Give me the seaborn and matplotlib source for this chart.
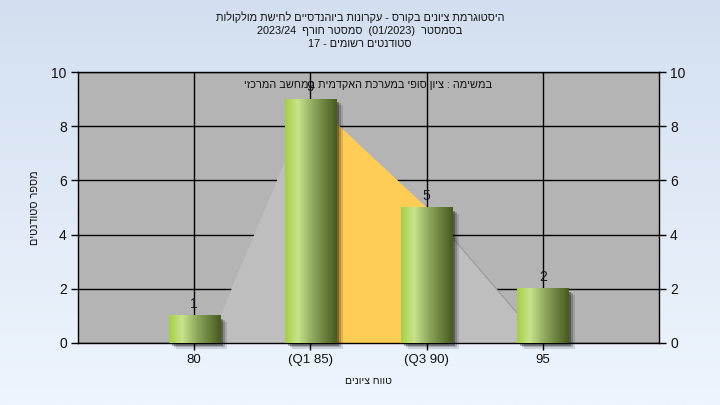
import numpy as np
import pandas as pd
import matplotlib
matplotlib.use("Agg")
import matplotlib.pyplot as plt
import matplotlib.transforms as mtransforms
from matplotlib.patches import Rectangle
from matplotlib.colors import LinearSegmentedColormap
import seaborn as sns

# ---------------- data ----------------
categories = ["80", "(Q1 85)", "(Q3 90)", "95"]
counts = [1, 9, 5, 2]
# background distribution area (x in category index units, y = students)
curve_x = [0.12, 1, 2, 3]
curve_y = [0, 9, 5, 0]
# interquartile (yellow) part of the area
iqr_x = [1, 2]
iqr_y = [9, 5]
y_ticks = [0, 2, 4, 6, 8, 10]

title_l1 = "היסטוגרמת ציונים בקורס - עקרונות ביוהנדסיים לחישת מולקולות"
title_l2_parts = ["בסמסטר", "(01/2023)", "סמסטר חורף", "2023/24"]
title_l3_parts = ["סטודנטים רשומים", "17"]
subtitle = "במשימה : ציון סופי במערכת האקדמית במחשב המרכזי"
ylabel = "מספר סטודנטים"
xlabel = "טווח ציונים"


def vis(s):
    """visual (left-to-right) order for pure Hebrew text"""
    return s[::-1]


line1 = vis(title_l1)
line2 = (title_l2_parts[3] + "  " + vis(title_l2_parts[2]) + "  "
         + title_l2_parts[1] + "  " + vis(title_l2_parts[0]))
line3 = title_l3_parts[1] + " - " + vis(title_l3_parts[0])

# ---------------- style ----------------
sns.set_style("white")
plt.rcParams["font.family"] = ["Liberation Sans", "DejaVu Sans"]

fig = plt.figure(figsize=(7.2, 4.05), dpi=100)

# figure gradient background
bg = fig.add_axes([0, 0, 1, 1], zorder=-10)
top = np.array([211, 223, 240]) / 255
bot = np.array([238, 245, 253]) / 255
t = np.linspace(0, 1, 256)[:, None]
grad = (top[None, :] * (1 - t) + bot[None, :] * t)[:, None, :]
bg.imshow(grad, aspect="auto", extent=[0, 1, 0, 1])
bg.set_axis_off()

ax = fig.add_axes([0.1083, 0.1531, 0.8069, 0.6691])
ax.set_facecolor("#B4B4B4")

df = pd.DataFrame({"grade": categories, "count": counts})
sns.barplot(data=df, x="grade", y="count", ax=ax, width=0.44,
            color="#9cc45a", saturation=1, zorder=3)

# background area
ax.fill_between(curve_x, curve_y, 0, color="#BEBEBE", lw=0, zorder=1)
ax.fill_between(iqr_x, iqr_y, 0, color="#FFCC55", lw=0, zorder=1.1)
ax.plot(curve_x[2:], curve_y[2:], color="#9A9A9A", lw=0.8, zorder=1.2)

# gradient bars + shadows
cmap = LinearSegmentedColormap.from_list(
    "bar", [(0.0, (164/255, 206/255, 70/255)),
            (0.25, (200/255, 227/255, 140/255)),
            (0.55, (140/255, 165/255, 92/255)),
            (1.0, (70/255, 90/255, 30/255))])
gimg = cmap(np.linspace(0, 1, 256))[None, :, :3]
for p in list(ax.patches):
    x0, w, h = p.get_x(), p.get_width(), p.get_height()
    for dx, dy, a in [(1, -1, 0.35), (3, -3, 0.3), (5, -4, 0.2), (7, -6, 0.12)]:
        tr = mtransforms.offset_copy(ax.transData, x=dx, y=dy, units="dots")
        ax.add_patch(Rectangle((x0, 0), w, h, transform=tr, facecolor="black",
                               alpha=a, lw=0, zorder=2, clip_on=False))
    ax.imshow(gimg, aspect="auto", extent=[x0, x0 + w, 0, h], zorder=3,
              interpolation="bilinear")
    p.set_visible(False)
    ax.text(x0 + w / 2, h + 0.18, f"{int(h)}", ha="center", va="bottom",
            fontsize=10, color="#1a1a2a", zorder=5)

ax.set_xlim(-1, 4)
ax.set_ylim(0, 10)
ax.set_yticks(y_ticks)
ax.set_xticks(range(len(categories)))
ax.set_xticklabels(categories)

ax.set_axisbelow(True)
ax.grid(True, color="black", lw=1)
for s in ax.spines.values():
    s.set_visible(True)
    s.set_color("black")
    s.set_linewidth(1)

ax.tick_params(axis="both", which="both", direction="out", length=5,
               width=1, color="black", labelsize=10, labelcolor="#111111")
ax.tick_params(axis="y", right=True, labelright=True, left=True, pad=3)
ax.tick_params(axis="x", bottom=True, pad=3, labelsize=9.5)

ax.set_xlabel(vis(xlabel), fontsize=7.5, labelpad=7, color="#111111")
ax.set_ylabel(vis(ylabel), fontsize=7.8, labelpad=8, color="#111111")

ax.text(0.5, 0.952, vis(subtitle), transform=ax.transAxes, ha="center",
        va="center", fontsize=7.8, color="#111111", zorder=6)

for i, line in enumerate([line1, line2, line3]):
    fig.text(0.5, 1 - (17 + 13.5 * i) / 405, line, ha="center", va="center",
             fontsize=7.8, color="#111111")

fig.savefig("out.png", dpi=100)
